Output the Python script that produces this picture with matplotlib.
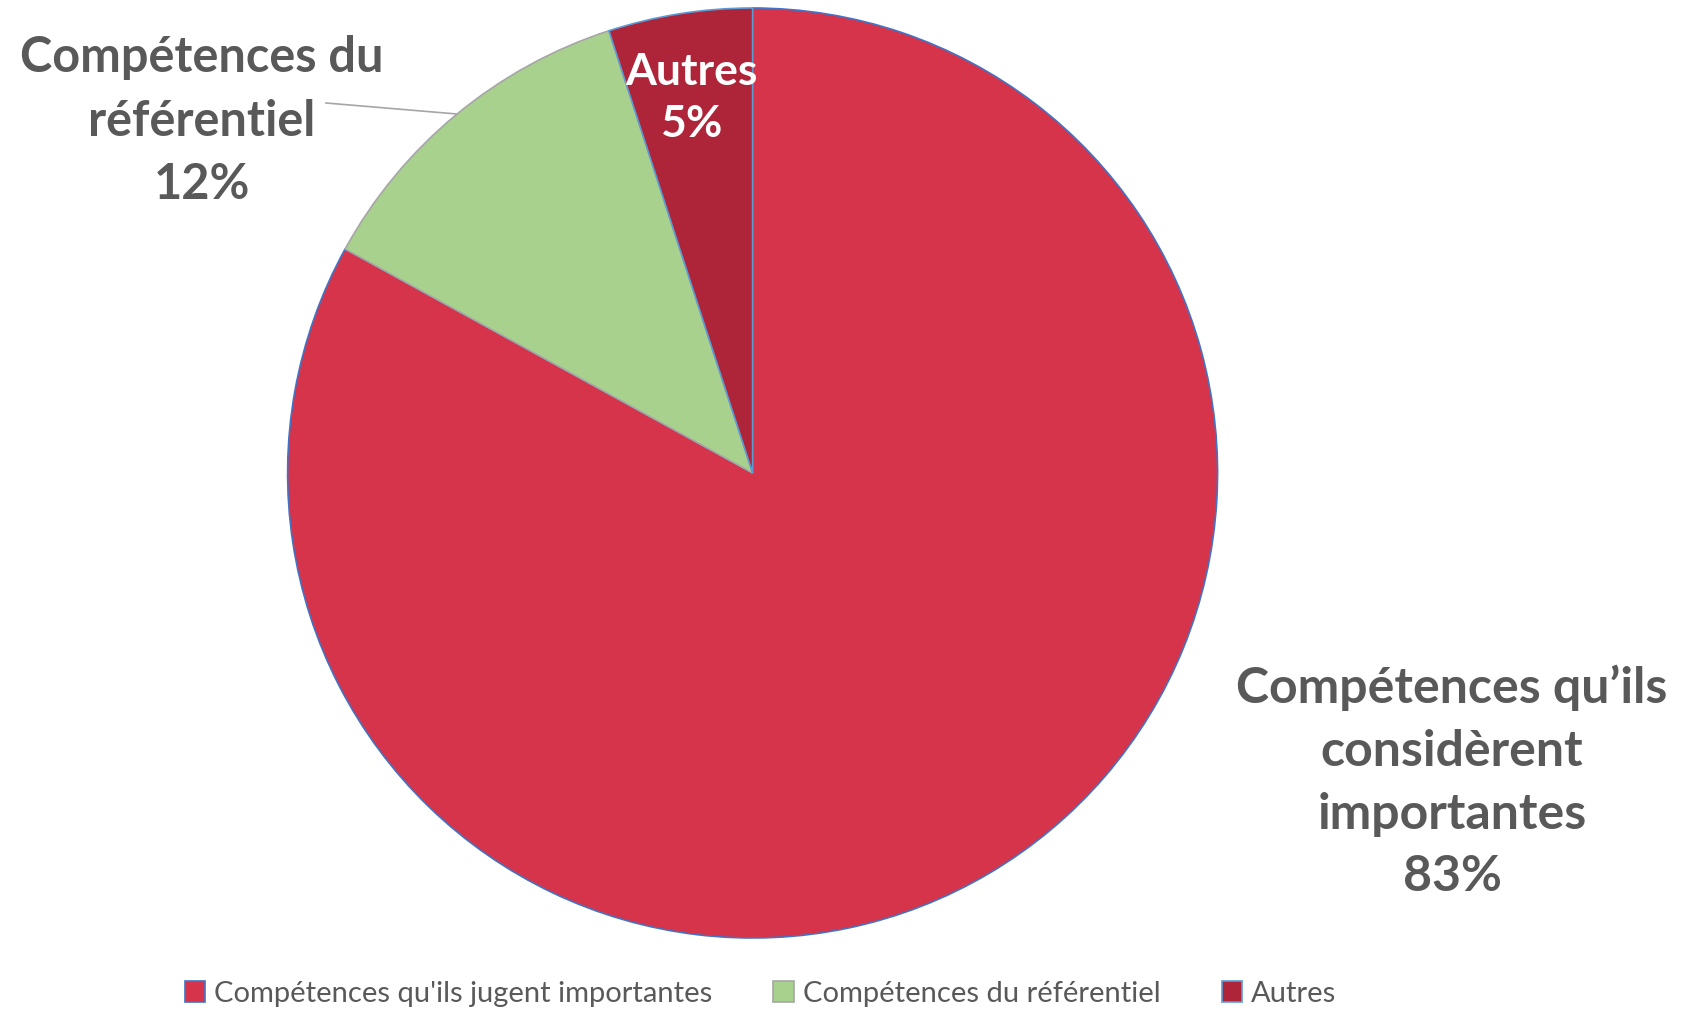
import matplotlib
matplotlib.use("Agg")
import matplotlib.pyplot as plt

categories = ["Compétences qu'ils jugent importantes", "Compétences du référentiel", "Autres"]
values = [83, 12, 5]
colors = ["#D5344A", "#A9D18E", "#AE2438"]
edges = ["#4472C4", "#A6A6A6", "#5B9BD5"]

plt.rcParams['font.family'] = ['Lato', 'DejaVu Sans']

W, H = 1686, 1010
fig = plt.figure(figsize=(W / 100, H / 100), dpi=100)
ax = fig.add_axes([0, 0, 1, 1])

cx, cy, r = 752.6, H - 473, 465
wedges, _ = ax.pie(values, colors=colors, startangle=90, counterclock=False,
                   center=(cx, cy), radius=r, frame=True)
for w, ec in zip(wedges, edges):
    w.set_edgecolor(ec)
    w.set_linewidth(1.2)
ax.set_xlim(0, W)
ax.set_ylim(0, H)
ax.axis('off')

grey = "#595959"
ax.text(1452, H - 782, "Compétences qu’ils\nconsidèrent\nimportantes\n83%", ha='center', va='center',
        fontsize=36, fontweight='bold', color=grey, linespacing=1.48)
ax.text(202, H - 121, "Compétences du\nréférentiel\n12%", ha='center', va='center',
        fontsize=35, fontweight='bold', color=grey, linespacing=1.5)
ax.text(691, H - 98, "Autres\n5%", ha='center', va='center',
        fontsize=32, fontweight='bold', color='white', linespacing=1.35)
ax.plot([326, 457], [H - 103, H - 114], color="#A6A6A6", lw=1.2)

leg = ax.legend(wedges, categories, loc='center', bbox_to_anchor=(0.451, 0.016),
                ncol=3, frameon=False, fontsize=21, handlelength=0.7, handleheight=0.7,
                handletextpad=0.3, columnspacing=2.1, bbox_transform=fig.transFigure)
for t in leg.get_texts():
    t.set_color(grey)

fig.savefig("out.png", dpi=100)
